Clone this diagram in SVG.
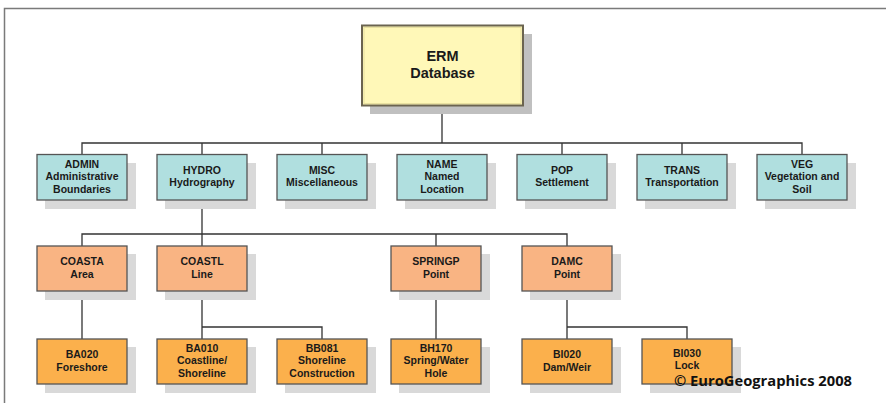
<svg xmlns="http://www.w3.org/2000/svg" width="886" height="403" viewBox="0 0 886 403">
<style>
  .sh{fill:#d9d9d9}
  .l1{fill:#b0dfdf;stroke:#555;stroke-width:1.3}
  .l2{fill:#f9b483;stroke:#555;stroke-width:1.3}
  .l3{fill:#fbb04c;stroke:#555;stroke-width:1.3}
  text{font-family:"Liberation Sans",Arial,sans-serif;font-weight:bold;font-size:10.5px;fill:#1a1a1a;text-anchor:middle}
  .conn path{fill:none;stroke:#333;stroke-width:1.3}
</style>
<rect x="0" y="0" width="886" height="403" fill="#fff"/>
<path d="M4.5 403 V8.5 H886" fill="none" stroke="#7a7a7a" stroke-width="1.5"/>
<g class="conn">
  <path d="M442 105 V143 M82 155 V143 H802 V155 M202 143 V155 M322 143 V155 M562 143 V155 M682 143 V155"/>
  <path d="M202 200 V234 M82 246 V234 H567 V246 M202 234 V246 M436 234 V246"/>
  <path d="M82 291 V339 M202 291 V339 M202 327 H322 V339 M436 291 V339 M567 291 V339 M567 327 H687 V339"/>
</g>
<g id="erm">
  <rect x="370" y="34" width="162" height="80" fill="#c0c0c0"/>
  <rect x="362" y="25.5" width="161" height="80" fill="#fff8b8" stroke="#6b6450" stroke-width="2"/>
  <rect x="364" y="27.5" width="157" height="76" fill="none" stroke="#e8e0a0" stroke-width="1"/>
  <text x="442.5" y="61" style="font-size:14.5px">ERM</text>
  <text x="442.5" y="78" style="font-size:14.5px">Database</text>
</g>
<g id="admin">
  <rect class="sh" x="45" y="163" width="91" height="46"/>
  <rect class="l1" x="37" y="154.5" width="90" height="45.5"/>
  <text x="82" y="167.5">ADMIN</text><text x="82" y="180.3">Administrative</text><text x="82" y="193">Boundaries</text>
</g>
<g id="hydro">
  <rect class="sh" x="165" y="163" width="91" height="46"/>
  <rect class="l1" x="157" y="154.5" width="90" height="45.5"/>
  <text x="202" y="173.5">HYDRO</text><text x="202" y="186">Hydrography</text>
</g>
<g id="misc">
  <rect class="sh" x="285" y="163" width="91" height="46"/>
  <rect class="l1" x="277" y="154.5" width="90" height="45.5"/>
  <text x="322" y="173.5">MISC</text><text x="322" y="186">Miscellaneous</text>
</g>
<g id="name">
  <rect class="sh" x="405" y="163" width="91" height="46"/>
  <rect class="l1" x="397" y="154.5" width="90" height="45.5"/>
  <text x="442" y="167.5">NAME</text><text x="442" y="180.3">Named</text><text x="442" y="193">Location</text>
</g>
<g id="pop">
  <rect class="sh" x="525" y="163" width="91" height="46"/>
  <rect class="l1" x="517" y="154.5" width="90" height="45.5"/>
  <text x="562" y="173.5">POP</text><text x="562" y="186">Settlement</text>
</g>
<g id="trans">
  <rect class="sh" x="645" y="163" width="91" height="46"/>
  <rect class="l1" x="637" y="154.5" width="90" height="45.5"/>
  <text x="682" y="173.5">TRANS</text><text x="682" y="186">Transportation</text>
</g>
<g id="veg">
  <rect class="sh" x="765" y="163" width="91" height="46"/>
  <rect class="l1" x="757" y="154.5" width="90" height="45.5"/>
  <text x="802" y="167.5">VEG</text><text x="802" y="180.3">Vegetation and</text><text x="802" y="193">Soil</text>
</g>
<g id="coasta">
  <rect class="sh" x="45" y="254" width="91" height="46"/>
  <rect class="l2" x="37" y="246" width="90" height="45"/>
  <text x="82" y="265">COASTA</text><text x="82" y="277.5">Area</text>
</g>
<g id="coastl">
  <rect class="sh" x="165" y="254" width="91" height="46"/>
  <rect class="l2" x="157" y="246" width="90" height="45"/>
  <text x="202" y="265">COASTL</text><text x="202" y="277.5">Line</text>
</g>
<g id="springp">
  <rect class="sh" x="399" y="254" width="91" height="46"/>
  <rect class="l2" x="391" y="246" width="90" height="45"/>
  <text x="436" y="265">SPRINGP</text><text x="436" y="277.5">Point</text>
</g>
<g id="damc">
  <rect class="sh" x="530" y="254" width="91" height="46"/>
  <rect class="l2" x="522" y="246" width="90" height="45"/>
  <text x="567" y="265">DAMC</text><text x="567" y="277.5">Point</text>
</g>
<g id="ba020">
  <rect class="sh" x="45" y="347" width="91" height="46"/>
  <rect class="l3" x="37" y="339" width="90" height="45"/>
  <text x="82" y="358">BA020</text><text x="82" y="370.5">Foreshore</text>
</g>
<g id="ba010">
  <rect class="sh" x="165" y="347" width="91" height="46"/>
  <rect class="l3" x="157" y="339" width="90" height="45"/>
  <text x="202" y="351.5">BA010</text><text x="202" y="364.3">Coastline/</text><text x="202" y="377">Shoreline</text>
</g>
<g id="bb081">
  <rect class="sh" x="285" y="347" width="91" height="46"/>
  <rect class="l3" x="277" y="339" width="90" height="45"/>
  <text x="322" y="351.5">BB081</text><text x="322" y="364.3">Shoreline</text><text x="322" y="377">Construction</text>
</g>
<g id="bh170">
  <rect class="sh" x="399" y="347" width="91" height="46"/>
  <rect class="l3" x="391" y="339" width="90" height="45"/>
  <text x="436" y="351.5">BH170</text><text x="436" y="364.3">Spring/Water</text><text x="436" y="377">Hole</text>
</g>
<g id="bi020">
  <rect class="sh" x="530" y="347" width="91" height="46"/>
  <rect class="l3" x="522" y="339" width="90" height="45"/>
  <text x="567" y="358">BI020</text><text x="567" y="370.5">Dam/Weir</text>
</g>
<g id="bi030">
  <rect class="sh" x="650" y="347" width="91" height="46"/>
  <rect class="l3" x="642" y="339" width="90" height="45"/>
  <text x="687" y="357">BI030</text><text x="687" y="369">Lock</text>
</g>
<text x="674" y="386" textLength="178" lengthAdjust="spacingAndGlyphs" style="font-size:14px;text-anchor:start;fill:#111;font-family:'Open Sans','Liberation Sans',sans-serif;font-weight:bold">© EuroGeographics 2008</text>
</svg>
